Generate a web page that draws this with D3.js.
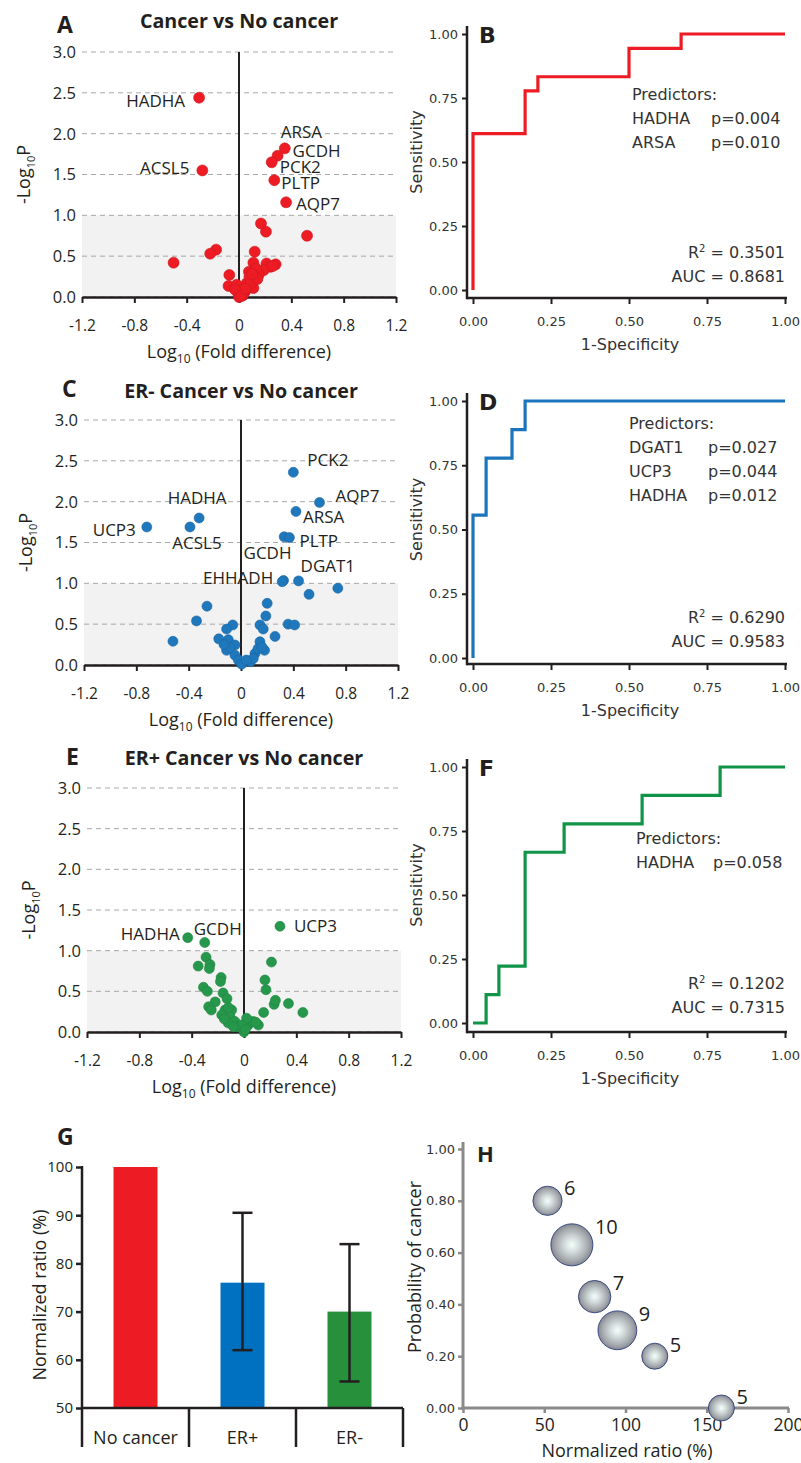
<!DOCTYPE html>
<html lang="en">
<head>
<meta charset="UTF-8">
<title>Volcano, ROC and bubble panels</title>
<style>
  body { margin: 0; background: #fff; }
  svg { display: block; }
  .os text { font-family: "Open Sans", sans-serif; }
  .dv text { font-family: "DejaVu Sans", sans-serif; }
</style>
</head>
<body>
<svg id="fig" width="801" height="1463"></svg>
<script src="https://d3js.org/d3.v7.min.js"></script>
<script>
// ---------- data ----------
const volcanoXTicks = [-1.2, -0.8, -0.4, 0, 0.4, 0.8, 1.2];
const volcanoYTicks = [0, 0.5, 1, 1.5, 2, 2.5, 3];

// A: cancer vs no cancer
const pointsA = [[0.168,0.90],[0.206,0.80],[0.52,0.75],[-0.175,0.58],[-0.22,0.53],[-0.50,0.42],
  [0.12,0.555],[0.11,0.42],[0.21,0.41],[0.28,0.40],[0.24,0.37],[0.19,0.33],[0.15,0.27],[0.076,0.31],
  [0.097,0.21],[0.07,0.12],[0.11,0.11],[0.046,0.065],[-0.074,0.27],[-0.08,0.135],[-0.018,0.15],
  [-0.005,0.045],[0,0],[0.03,0.02],[0.06,0.17],[0.08,0.25],[0.13,0.35],[0.26,0.38],[-0.03,0.09],
  [0.015,0.01],[0.09,0.16],[0.14,0.22],[0.05,0.10],[0.10,0.28]];
const genesA = [
  {gene:"HADHA", x:-0.305, y:2.44}, {gene:"ACSL5", x:-0.28, y:1.55},
  {gene:"ARSA", x:0.35, y:1.82}, {gene:"GCDH", x:0.295, y:1.73},
  {gene:"PCK2", x:0.25, y:1.65}, {gene:"PLTP", x:0.27, y:1.43},
  {gene:"AQP7", x:0.36, y:1.16}];

// C: ER- cancer vs no cancer
const pointsC = [[0.74,0.94],[0.52,0.865],[-0.26,0.72],[-0.34,0.54],[-0.52,0.29],[0.20,0.755],
  [0.19,0.60],[0.36,0.50],[0.41,0.49],[0.26,0.35],[0.145,0.49],[0.17,0.44],[-0.063,0.49],[-0.11,0.44],
  [-0.17,0.32],[-0.097,0.31],[-0.11,0.18],[-0.046,0.245],[-0.046,0.12],[-0.02,0.06],[0.005,0.01],
  [0.07,0.04],[0.107,0.14],[0.145,0.285],[0.18,0.18],[0.13,0.20],[0.094,0.08],[0.04,0.06],
  [-0.084,0.215],[-0.13,0.25],[0.16,0.22],[0.33,1.57]];
const genesC = [
  {gene:"PCK2", x:0.40, y:2.36}, {gene:"AQP7", x:0.60, y:1.99},
  {gene:"ARSA", x:0.42, y:1.88}, {gene:"PLTP", x:0.37, y:1.56},
  {gene:"HADHA", x:-0.32, y:1.80}, {gene:"ACSL5", x:-0.39, y:1.69},
  {gene:"UCP3", x:-0.72, y:1.69}, {gene:"GCDH", x:0.325, y:1.035},
  {gene:"EHHADH", x:0.315, y:1.02}, {gene:"DGAT1", x:0.44, y:1.03}];

// E: ER+ cancer vs no cancer
const pointsE = [[-0.29,0.92],[-0.35,0.81],[-0.26,0.83],[-0.265,0.78],[-0.175,0.67],[-0.18,0.62],
  [-0.31,0.55],[-0.28,0.50],[-0.16,0.48],[-0.13,0.41],[-0.22,0.37],[-0.27,0.31],[-0.25,0.27],
  [-0.145,0.27],[-0.17,0.21],[-0.094,0.27],[-0.107,0.19],[-0.07,0.13],[-0.044,0.065],[0,0],
  [0.033,0.085],[0.07,0.13],[0.11,0.085],[0.15,0.24],[0.21,0.86],[0.16,0.64],[0.168,0.52],
  [0.23,0.34],[0.24,0.39],[0.34,0.35],[0.45,0.24],[0.02,0.17],[-0.02,0.085],[-0.12,0.11],
  [-0.08,0.065],[-0.15,0.16],[-0.12,0.30],[0.09,0.12],[0.01,0.03]];
const genesE = [
  {gene:"UCP3", x:0.275, y:1.30}, {gene:"HADHA", x:-0.43, y:1.16},
  {gene:"GCDH", x:-0.30, y:1.10}];

// ROC curves [1-specificity, sensitivity]
const rocTicks = [0, 0.25, 0.5, 0.75, 1];
const rocB = [[0,0],[0,0.611],[0.167,0.611],[0.167,0.778],[0.208,0.778],[0.208,0.833],
  [0.5,0.833],[0.5,0.944],[0.667,0.944],[0.667,1],[1,1]];
const rocD = [[0,0],[0,0.556],[0.042,0.556],[0.042,0.778],[0.125,0.778],[0.125,0.889],
  [0.167,0.889],[0.167,1],[1,1]];
const rocF = [[0,0],[0.042,0],[0.042,0.111],[0.083,0.111],[0.083,0.222],[0.167,0.222],
  [0.167,0.667],[0.292,0.667],[0.292,0.778],[0.542,0.778],[0.542,0.889],[0.792,0.889],
  [0.792,1],[1,1]];
const predictorsB = [["HADHA","p=0.004"],["ARSA","p=0.010"]];
const predictorsD = [["DGAT1","p=0.027"],["UCP3","p=0.044"],["HADHA","p=0.012"]];
const predictorsF = [["HADHA","p=0.058"]];
const statsB = ["0.3501","0.8681"];
const statsD = ["0.6290","0.9583"];
const statsF = ["0.1202","0.7315"];

// G: bar chart
const groups = ["No cancer", "ER+", "ER-"];
const ratioMean = [100, 76, 70];
const ratioLow = [null, 62, 55.5];
const ratioHigh = [null, 90.5, 84];
const ratioTicks = [50, 60, 70, 80, 90, 100];

// H: bubbles
const bubbleRatio = [52, 67, 81, 95, 118, 159];
const bubbleProb = [0.80, 0.63, 0.43, 0.30, 0.20, 0.00];
const bubbleN = [6, 10, 7, 9, 5, 5];
const bubbleXTicks = [0, 50, 100, 150, 200];
const bubbleYTicks = [0, 0.2, 0.4, 0.6, 0.8, 1];

// ---------- drawing ----------
const svg = d3.select("#fig");
const ink = "#231f20";

function subLabel(sel, parts, small) {
  // parts: [main, subscript, rest]
  sel.append("tspan").text(parts[0]);
  sel.append("tspan").text(parts[1]).attr("font-size", small).attr("dy", 5);
  sel.append("tspan").text(parts[2]).attr("dy", -5);
}

function volcano(c) {
  const x = d3.scaleLinear().domain([-1.2, 1.2]).range([c.left, c.right]);
  const y = d3.scaleLinear().domain([0, 3]).range([c.bottom, c.top]);
  const g = svg.append("g").attr("class", "os");

  g.append("rect")
    .attr("x", c.left).attr("y", y(1))
    .attr("width", c.right - c.left).attr("height", y(0) - y(1))
    .attr("fill", "#f2f2f2");

  g.selectAll(".grid").data(volcanoYTicks).join("line")
    .attr("class", "grid")
    .attr("x1", c.left).attr("x2", c.right)
    .attr("y1", d => y(d)).attr("y2", d => y(d))
    .attr("stroke", "#a8a8a8").attr("stroke-dasharray", "5,4");

  g.selectAll(".yt").data(volcanoYTicks).join("text")
    .attr("class", "yt")
    .attr("x", c.left - 6).attr("y", d => y(d)).attr("dy", "0.36em")
    .attr("text-anchor", "end").attr("font-size", 16.5).attr("fill", ink)
    .text(d => d.toFixed(1));

  const ax = g.append("g").attr("transform", `translate(0,${c.bottom})`)
    .call(d3.axisBottom(x).tickValues(volcanoXTicks).tickSize(6).tickSizeOuter(0)
      .tickPadding(17).tickFormat(d => d === 0 ? "0" : d.toFixed(1)));
  ax.select(".domain").attr("stroke", ink).attr("stroke-width", 2.5);
  ax.selectAll(".tick line").attr("stroke", ink).attr("stroke-width", 2);
  ax.selectAll("text").attr("font-size", 15.5).attr("fill", ink);

  g.append("line")
    .attr("x1", x(0)).attr("x2", x(0)).attr("y1", y(0)).attr("y2", y(3))
    .attr("stroke", ink).attr("stroke-width", 2);

  const pts = c.points.concat(c.genes.map(d => [d.x, d.y]));
  g.selectAll(".pt").data(pts).join("circle")
    .attr("class", "pt")
    .attr("cx", d => x(d[0])).attr("cy", d => y(d[1])).attr("r", c.r)
    .attr("fill", c.color)
    .attr("stroke", d3.color(c.color).darker(0.4)).attr("stroke-width", 0.6);

  g.selectAll(".gene").data(c.genes).join("text")
    .attr("class", "gene")
    .attr("x", d => x(d.x) + c.offsets[d.gene][0])
    .attr("y", d => y(d.y) + c.offsets[d.gene][1])
    .attr("text-anchor", d => c.offsets[d.gene][2])
    .attr("font-size", 17).attr("fill", ink)
    .text(d => d.gene);

  g.append("text").attr("x", (c.left + c.right) / 2).attr("y", c.titleY)
    .attr("text-anchor", "middle").attr("font-size", 19.7).attr("font-weight", "bold")
    .attr("fill", ink).text(c.title);
  g.append("text").attr("x", c.letterX).attr("y", c.letterY)
    .attr("font-size", 23).attr("font-weight", "bold").attr("fill", ink).text(c.letter);

  subLabel(g.append("text").attr("x", (c.left + c.right) / 2).attr("y", c.bottom + 61)
    .attr("text-anchor", "middle").attr("font-size", 18).attr("fill", ink),
    ["Log", "10", " (Fold difference)"], 12);

  const yl = (c.top + c.bottom) / 2;
  subLabel(g.append("text").attr("transform", `translate(${c.left - 52},${yl}) rotate(-90)`)
    .attr("text-anchor", "middle").attr("font-size", 18).attr("fill", ink),
    ["-Log", "10", "P"], 11);
}

function roc(c) {
  const x = d3.scaleLinear().domain([0, 1]).range([473, 785]);
  const y = d3.scaleLinear().domain([0, 1]).range([c.yBot, c.yTop]);
  const axX = 467;
  const g = svg.append("g").attr("class", "dv");

  const ya = g.append("g").attr("transform", `translate(${axX},0)`)
    .call(d3.axisLeft(y).tickValues(rocTicks).tickFormat(d3.format(".2f")).tickSize(5).tickPadding(4));
  ya.select(".domain").remove();
  const xa = g.append("g").attr("transform", `translate(0,${c.axisY})`)
    .call(d3.axisBottom(x).tickValues(rocTicks).tickFormat(d3.format(".2f")).tickSize(6).tickPadding(13));
  xa.select(".domain").remove();
  g.selectAll(".tick line").attr("stroke", ink).attr("stroke-width", 2);
  g.selectAll(".tick text").attr("font-size", 13).attr("fill", "#333");

  g.append("line").attr("x1", axX).attr("x2", axX).attr("y1", c.yTop - 8).attr("y2", c.axisY + 1.25)
    .attr("stroke", ink).attr("stroke-width", 2.5);
  g.append("line").attr("x1", axX).attr("x2", 787).attr("y1", c.axisY).attr("y2", c.axisY)
    .attr("stroke", ink).attr("stroke-width", 2.5);

  g.append("path").datum(c.curve)
    .attr("d", d3.line().x(d => x(d[0])).y(d => y(d[1])))
    .attr("fill", "none").attr("stroke", c.color).attr("stroke-width", 3.2);

  g.append("text").attr("x", 479).attr("y", c.yTop + 9)
    .attr("font-size", 22).attr("font-weight", "bold").attr("fill", ink).text(c.letter);

  g.append("text").attr("transform", `translate(422,${(c.yTop + c.yBot) / 2 - 10}) rotate(-90)`)
    .attr("text-anchor", "middle").attr("font-size", 16).attr("fill", "#333").text("Sensitivity");
  g.append("text").attr("x", 630).attr("y", c.axisY + 52)
    .attr("text-anchor", "middle").attr("font-size", 16).attr("fill", "#333").text("1-Specificity");

  g.append("text").attr("x", c.predX).attr("y", c.predY)
    .attr("font-size", 16).attr("fill", "#333").text("Predictors:");
  c.predictors.forEach((p, i) => {
    g.append("text").attr("x", c.predX).attr("y", c.predY + 24 * (i + 1))
      .attr("font-size", 16).attr("fill", "#333").text(p[0]);
    g.append("text").attr("x", c.pX).attr("y", c.predY + 24 * (i + 1))
      .attr("font-size", 16).attr("fill", "#333").text(p[1]);
  });

  const r2 = g.append("text").attr("x", 785).attr("y", c.statY)
    .attr("text-anchor", "end").attr("font-size", 16).attr("fill", "#333");
  r2.append("tspan").text("R");
  r2.append("tspan").text("2").attr("font-size", 10).attr("dy", -6);
  r2.append("tspan").text(" = " + c.stats[0]).attr("dy", 6);
  g.append("text").attr("x", 785).attr("y", c.statY + 24)
    .attr("text-anchor", "end").attr("font-size", 16).attr("fill", "#333")
    .text("AUC = " + c.stats[1]);
}

// volcano panels
volcano({
  left: 82, right: 396, top: 52, bottom: 297, color: "#ed1c24", r: 5.5,
  points: pointsA, genes: genesA, title: "Cancer vs No cancer", titleY: 28,
  letter: "A", letterX: 57, letterY: 33,
  offsets: { HADHA: [-14, 9, "end"], ACSL5: [-13, 4, "end"], ARSA: [-4, -10, "start"],
    GCDH: [15, 1, "start"], PCK2: [8, 11, "start"], PLTP: [7, 9, "start"], AQP7: [10, 8, "start"] }
});
volcano({
  left: 84, right: 398, top: 420, bottom: 665, color: "#1f77bc", r: 5,
  points: pointsC, genes: genesC, title: "ER- Cancer vs No cancer", titleY: 398,
  letter: "C", letterX: 62, letterY: 397,
  offsets: { PCK2: [14, -6, "start"], AQP7: [16, 0, "start"], ARSA: [7, 12, "start"],
    PLTP: [10, 9, "start"], HADHA: [-2, -14, "middle"], ACSL5: [7, 22, "middle"],
    UCP3: [-11, 9, "end"], GCDH: [-40, -21, "start"], EHHADH: [-9, 2, "end"], DGAT1: [2, -9, "start"] }
});
volcano({
  left: 87, right: 401, top: 788, bottom: 1032, color: "#26984b", r: 5,
  points: pointsE, genes: genesE, title: "ER+ Cancer vs No cancer", titleY: 765,
  letter: "E", letterX: 66, letterY: 765,
  offsets: { UCP3: [14, 6, "start"], HADHA: [-8, 2, "end"], GCDH: [-11, -8, "start"] }
});

// ROC panels
roc({ yTop: 34, yBot: 290, axisY: 298, color: "#ed1c24", curve: rocB, letter: "B",
  predictors: predictorsB, predX: 632, predY: 100, pX: 711, stats: statsB, statY: 258 });
roc({ yTop: 401, yBot: 658, axisY: 664, color: "#1a75bc", curve: rocD, letter: "D",
  predictors: predictorsD, predX: 629, predY: 429, pX: 708, stats: statsD, statY: 623 });
roc({ yTop: 767, yBot: 1023, axisY: 1032, color: "#109447", curve: rocF, letter: "F",
  predictors: predictorsF, predX: 636, predY: 844, pX: 713, stats: statsF, statY: 989 });

// ---------- G: bars ----------
{
  const g = svg.append("g").attr("class", "os");
  const x = d3.scaleBand().domain(groups).range([82, 403]);
  const y = d3.scaleLinear().domain([50, 100]).range([1408, 1167]);
  const barColors = ["#ed1c24", "#0070c0", "#27903b"];
  const bw = 44;
  const data = groups.map((k, i) => ({ k, v: ratioMean[i], lo: ratioLow[i], hi: ratioHigh[i], c: barColors[i] }));

  g.selectAll(".bar").data(data).join("rect")
    .attr("class", "bar")
    .attr("x", d => x(d.k) + (x.bandwidth() - bw) / 2).attr("width", bw)
    .attr("y", d => y(d.v)).attr("height", d => y(50) - y(d.v))
    .attr("fill", d => d.c);

  const eb = data.filter(d => d.lo != null);
  const cx = d => x(d.k) + x.bandwidth() / 2;
  g.selectAll(".ev").data(eb).join("line").attr("class", "ev")
    .attr("x1", cx).attr("x2", cx).attr("y1", d => y(d.lo)).attr("y2", d => y(d.hi))
    .attr("stroke", ink).attr("stroke-width", 2.5);
  ["lo", "hi"].forEach(f => {
    g.selectAll(".cap" + f).data(eb).join("line").attr("class", "cap" + f)
      .attr("x1", d => cx(d) - 10).attr("x2", d => cx(d) + 10)
      .attr("y1", d => y(d[f])).attr("y2", d => y(d[f]))
      .attr("stroke", ink).attr("stroke-width", 2.5);
  });

  const ya = g.append("g").attr("transform", "translate(82,0)")
    .call(d3.axisLeft(y).tickValues(ratioTicks).tickSize(6).tickPadding(3));
  ya.select(".domain").remove();
  ya.selectAll(".tick line").attr("stroke", ink).attr("stroke-width", 2.5);
  ya.selectAll("text").attr("font-size", 15).attr("fill", ink);

  g.append("line").attr("x1", 82).attr("x2", 82).attr("y1", 1166).attr("y2", 1447)
    .attr("stroke", ink).attr("stroke-width", 2.5);
  g.append("line").attr("x1", 82).attr("x2", 403).attr("y1", 1408).attr("y2", 1408)
    .attr("stroke", ink).attr("stroke-width", 2.5);
  g.selectAll(".sep").data(groups).join("line").attr("class", "sep")
    .attr("x1", d => x(d) + x.bandwidth()).attr("x2", d => x(d) + x.bandwidth())
    .attr("y1", 1408).attr("y2", 1447)
    .attr("stroke", ink).attr("stroke-width", 2.5);
  g.selectAll(".cat").data(groups).join("text").attr("class", "cat")
    .attr("x", d => x(d) + x.bandwidth() / 2).attr("y", 1444)
    .attr("text-anchor", "middle").attr("font-size", 18).attr("fill", ink).text(d => d);

  g.append("text").attr("transform", "translate(46,1295) rotate(-90)")
    .attr("text-anchor", "middle").attr("font-size", 18).attr("fill", ink).text("Normalized ratio (%)");
  g.append("text").attr("x", 57).attr("y", 1145)
    .attr("font-size", 23).attr("font-weight", "bold").attr("fill", ink).text("G");
}

// ---------- H: bubbles ----------
{
  const g = svg.append("g").attr("class", "os");
  const x = d3.scaleLinear().domain([0, 200]).range([463, 788]);
  const y = d3.scaleLinear().domain([0, 1]).range([1408, 1149]);
  const r = d3.scaleLinear().domain([5, 10]).range([13, 21]);
  const axisGray = "#8a8a8a";

  const grad = svg.append("defs").append("radialGradient").attr("id", "bub")
    .attr("cx", "50%").attr("cy", "50%").attr("r", "50%");
  grad.append("stop").attr("offset", "0%").attr("stop-color", "#f4fffb");
  grad.append("stop").attr("offset", "35%").attr("stop-color", "#d3dcdb");
  grad.append("stop").attr("offset", "80%").attr("stop-color", "#a2a6ab");
  grad.append("stop").attr("offset", "100%").attr("stop-color", "#85888f");

  const ya = g.append("g").attr("class", "dv").attr("transform", "translate(463,0)")
    .call(d3.axisLeft(y).tickValues(bubbleYTicks).tickFormat(d3.format(".2f")).tickSize(5).tickPadding(3));
  ya.select(".domain").remove();
  ya.selectAll("text").attr("font-size", 13).attr("fill", "#333");
  const xa = g.append("g").attr("transform", "translate(0,1408)")
    .call(d3.axisBottom(x).tickValues(bubbleXTicks).tickSize(5).tickPadding(6));
  xa.select(".domain").remove();
  xa.selectAll("text").attr("font-size", 17.5).attr("fill", ink);
  g.selectAll(".tick line").attr("stroke", axisGray).attr("stroke-width", 2.5);

  g.append("line").attr("x1", 463).attr("x2", 463).attr("y1", 1142).attr("y2", 1409.5)
    .attr("stroke", axisGray).attr("stroke-width", 3);
  g.append("line").attr("x1", 461.5).attr("x2", 789).attr("y1", 1408).attr("y2", 1408)
    .attr("stroke", axisGray).attr("stroke-width", 3);

  const data = bubbleRatio.map((v, i) => ({ v, p: bubbleProb[i], n: bubbleN[i] }));
  g.selectAll(".bub").data(data).join("circle").attr("class", "bub")
    .attr("cx", d => x(d.v)).attr("cy", d => y(d.p)).attr("r", d => r(d.n))
    .attr("fill", "url(#bub)").attr("stroke", "#2d3f7c").attr("stroke-width", 0.9);
  g.selectAll(".bl").data(data).join("text").attr("class", "bl")
    .attr("x", d => x(d.v) + r(d.n) + 2)
    .attr("y", d => y(d.p) - r(d.n) * 0.8 + 6)
    .attr("font-size", 20).attr("fill", ink).text(d => d.n);

  g.append("text").attr("x", 627).attr("y", 1457).attr("text-anchor", "middle")
    .attr("font-size", 18).attr("fill", ink).text("Normalized ratio (%)");
  g.append("text").attr("transform", "translate(421,1267) rotate(-90)")
    .attr("text-anchor", "middle").attr("font-size", 18).attr("fill", ink).text("Probability of cancer");
  g.append("text").attr("x", 477).attr("y", 1162)
    .attr("font-family", "DejaVu Sans").attr("font-size", 22).attr("font-weight", "bold")
    .attr("fill", ink).text("H");
}
</script>
</body>
</html>
